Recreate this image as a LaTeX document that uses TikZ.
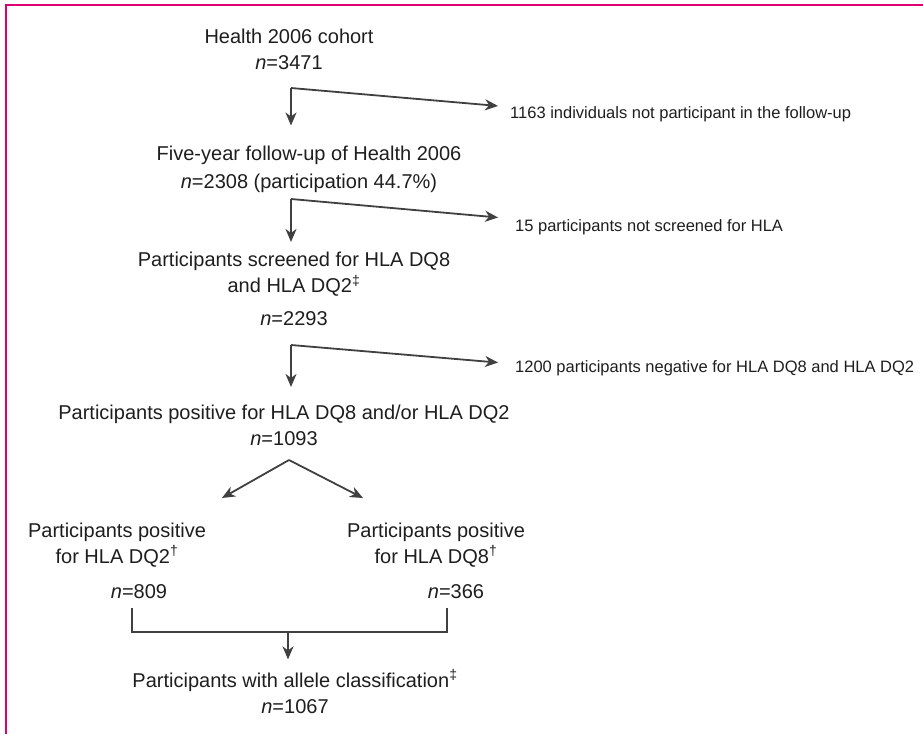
\documentclass[tikz,border=0pt]{standalone}
\usepackage{fontspec}
\setmainfont{Liberation Sans}
\usetikzlibrary{positioning,arrows.meta,calc}
\definecolor{framepink}{RGB}{222,0,110}
\definecolor{inkgray}{RGB}{30,30,30}
\newcommand{\nval}{\textit{n}=}

\begin{document}
\begin{tikzpicture}[x=1pt,y=-1pt,
  box/.style={align=center,inner sep=0pt,text=inkgray,font=\fontsize{20}{26}\selectfont},
  note/.style={anchor=west,inner sep=0pt,text=inkgray,font=\fontsize{16.5}{20}\selectfont},
  link/.style={draw=inkgray!85,line width=1.8pt},
  arr/.style={link,-{Stealth[length=13pt,width=11pt,inset=4pt]}}]
\useasboundingbox (0,0) rectangle (923,734);
% --- frame ---
\draw[framepink,line width=2.6pt] (6,734) -- (6,5) -- (923,5);
% --- main column ---
\node[box] (cohort) at (289,49) {Health 2006 cohort\\\nval3471};
\node[box] (followup) at (309,169) {Five-year follow-up of Health 2006\\[2pt]\nval2308 (participation 44.7\%)};
\node[box] (screened) at (294,289) {Participants screened for HLA DQ8\\and HLA DQ2\textsuperscript{‡}\\[7pt]\nval2293};
\node[box] (positive) at (284,425.5) {Participants positive for HLA DQ8 and/or HLA DQ2\\\nval1093};
\node[box] (dqtwo) at (117,545) {Participants positive\\for HLA DQ2\textsuperscript{†}};
\node[box] (dqtwon) at (139,592) {\nval809};
\node[box] (dqeight) at (436,545) {Participants positive\\for HLA DQ8\textsuperscript{†}};
\node[box] (dqeightn) at (456,592) {\nval366};
\node[box] (allele) at (295,691.5) {Participants with allele classification\textsuperscript{‡}\\\nval1067};
% --- exclusions ---
\node[note] (lostone) at (510,114) {1163 individuals not participant in the follow-up};
\node[note] (losttwo) at (515,227) {15 participants not screened for HLA};
\node[note] (lostthree) at (515,368) {1200 participants negative for HLA DQ8 and HLA DQ2};
% --- elbow arrows ---
\coordinate (kone) at (291,88);
\coordinate (ktwo) at (291,199);
\coordinate (kthree) at (291,345);
\draw[arr,shorten >=20pt] (kone) -- (kone |- followup.north);
\draw[arr,shorten >=12pt] (kone) -- ([yshift=7pt]lostone.west);
\draw[arr,shorten >=10pt] (ktwo) -- (ktwo |- screened.north);
\draw[arr,shorten >=17pt] (ktwo) -- ([yshift=8pt]losttwo.west);
\draw[arr,shorten >=18pt] (kthree) -- (kthree |- positive.north);
\draw[arr,shorten >=17pt] (kthree) -- ([yshift=4pt]lostthree.west);
% --- split ---
\coordinate (apex) at (289,460);
\coordinate (tipl) at (222,498);
\coordinate (tipr) at (363,498);
\draw[arr] (apex) -- (tipl);
\draw[arr] (apex) -- (tipr);
% --- merge ---
\coordinate (bl) at (132,608);
\coordinate (br) at (447,608);
\coordinate (mid) at (288,632);
\draw[link] (bl) -- ++(0,24) -| (br);
\draw[arr,shorten >=10pt] (mid) -- (mid |- allele.north);
\end{tikzpicture}
\end{document}
